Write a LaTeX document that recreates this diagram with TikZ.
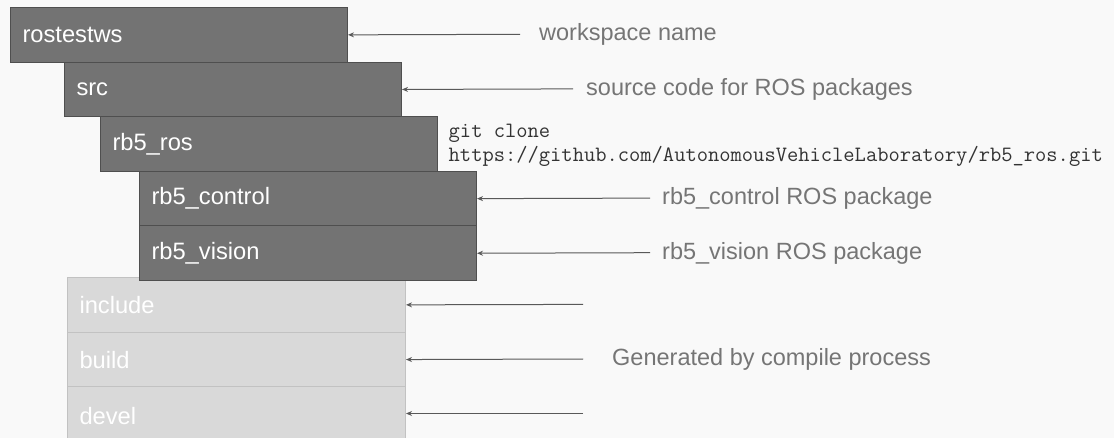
\documentclass[tikz,border=0pt]{standalone}
\usepackage{fontspec}
\setmainfont{Liberation Sans}
\usetikzlibrary{arrows.meta}
\definecolor{bg}{HTML}{F9F9F9}
\definecolor{darkfill}{HTML}{737373}
\definecolor{darkline}{HTML}{4F4F4F}
\definecolor{lightfill}{HTML}{D9D9D9}
\definecolor{lightline}{HTML}{C2C2C2}
\definecolor{notegray}{HTML}{757575}
\definecolor{arrowgray}{HTML}{595959}
\definecolor{gittext}{HTML}{333333}
\tikzset{
  boxbase/.style={anchor=north west, minimum width=337pt, minimum height=54.7pt,
    text width=313pt, align=left, inner xsep=12pt, inner ysep=0pt, line width=1pt,
    font=\fontsize{23.7}{28}\selectfont},
  darkbox/.style={boxbase, draw=darkline, fill=darkfill, text=white},
  lightbox/.style={boxbase, draw=lightline, fill=lightfill, text=white, minimum width=338pt, text width=314pt},
  note/.style={anchor=west, inner sep=0pt, text=notegray, font=\fontsize{23.5}{28}\selectfont},
  pointer/.style={draw=arrowgray, line width=1pt, -{Stealth[length=6pt,width=5pt]}}
}
\begin{document}
\begin{tikzpicture}[x=1pt,y=-1pt]
\fill[bg] (0,0) rectangle (1114,438);
\useasboundingbox (0,0) rectangle (1114,438);
% light (generated) boxes, behind
\node[lightbox] (inc) at (67,277) {include};
\node[lightbox] (bld) at (67,331.7) {build};
\node[lightbox, minimum height=60pt] (dev) at (67,386.4) {\raisebox{2.6pt}{devel}};
% dark boxes
\node[darkbox] (ws) at (10,7) {rostestws};
\node[darkbox] (src) at (64,61.6) {src};
\node[darkbox] (ros) at (100,116.2) {rb5\_ros};
\node[darkbox] (ctrl) at (139,170.8) {rb5\_control};
\node[darkbox] (vis) at (139,225.4) {rb5\_vision};
% annotations
\coordinate (wsT) at (520,34.3);
\coordinate (srcT) at (573,88.9);
\coordinate (ctrlT) at (650,198.1);
\coordinate (visT) at (650,252.7);
\coordinate (incT) at (583,304.4);
\coordinate (bldT) at (583,359);
\coordinate (devT) at (583,413.5);
\node[note] (wsN) at (539,34.8) {workspace name};
\node[note] (srcN) at (586,89.4) {source code for ROS packages};
\node[note] (ctrlN) at (662,198.6) {rb5\_control ROS package};
\node[note] (visN) at (662,253.2) {rb5\_vision ROS package};
\node[note] (genN) at (612,359.5) {Generated by compile process};
\node[anchor=west, inner sep=0pt, align=left, text=gittext,
  font=\ttfamily\fontsize{21.9}{24}\selectfont] (git) at (448.5,145)
  {git clone\\https://github.com/AutonomousVehicleLaboratory/rb5\_ros.git};
\draw[pointer] (wsT) -- (ws.east);
\draw[pointer] (srcT) -- (src.east);
\draw[pointer] (ctrlT) -- (ctrl.east);
\draw[pointer] (visT) -- (vis.east);
\draw[pointer] (incT) -- (inc.east);
\draw[pointer] (bldT) -- (bld.east);
\draw[pointer] (devT) -- (devT -| dev.east);
\end{tikzpicture}
\end{document}
